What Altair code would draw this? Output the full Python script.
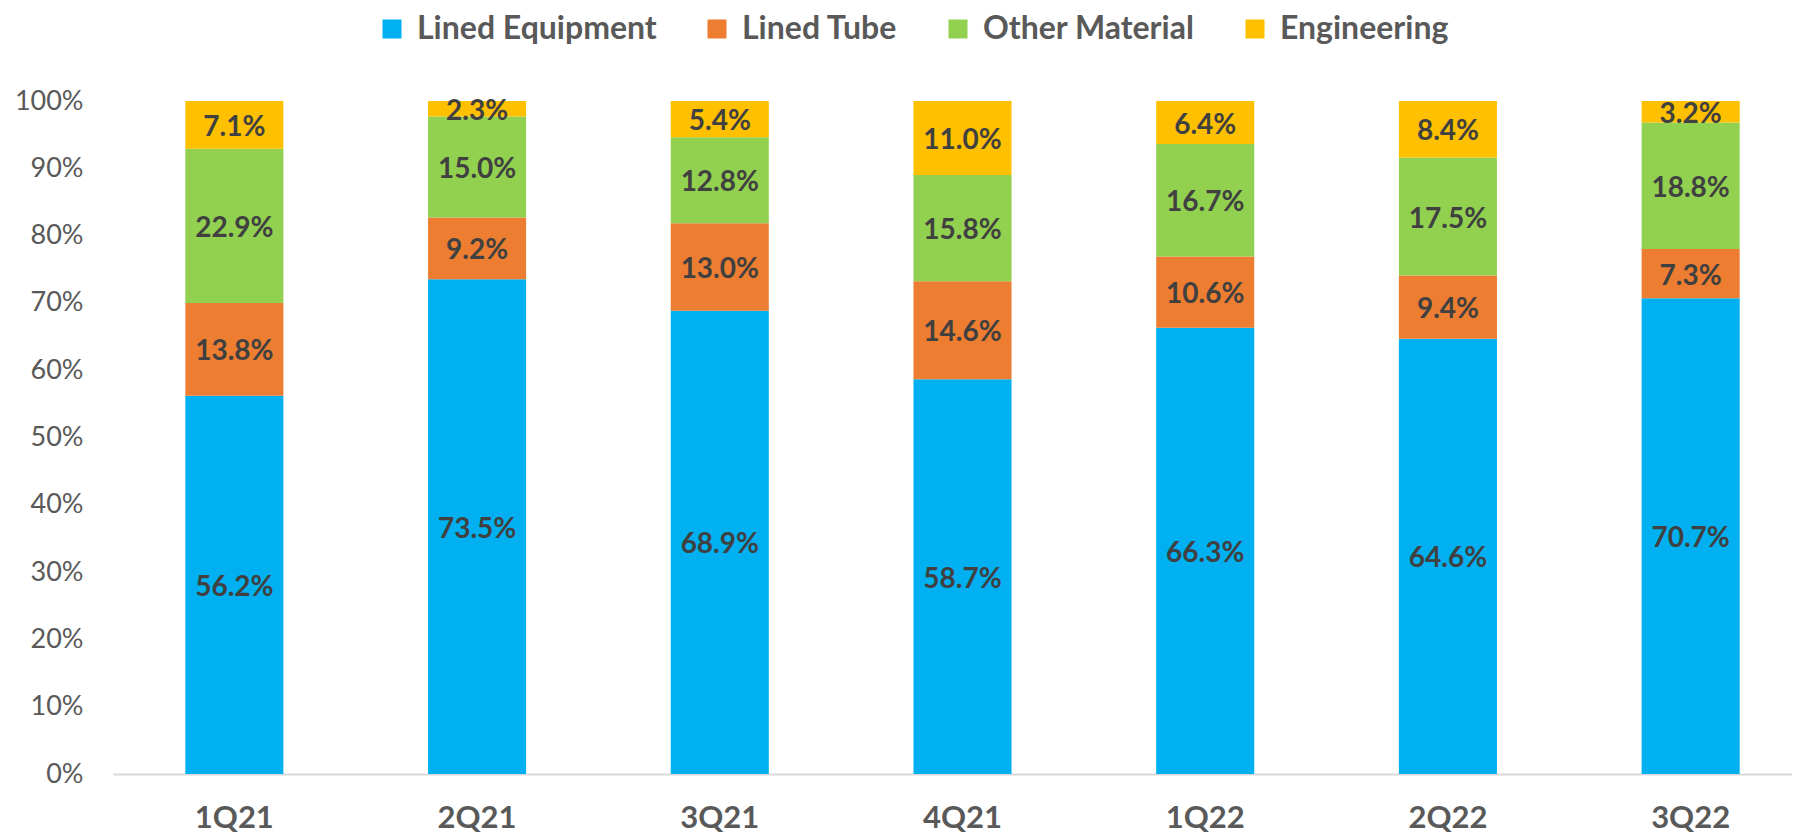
import altair as alt
import pandas as pd

quarters = ["1Q21", "2Q21", "3Q21", "4Q21", "1Q22", "2Q22", "3Q22"]
series = ["Lined Equipment", "Lined Tube", "Other Material", "Engineering"]
colors = ["#00B0F0", "#ED7D31", "#92D050", "#FFC000"]

lined_equipment = [56.2, 73.5, 68.9, 58.7, 66.3, 64.6, 70.7]
lined_tube = [13.8, 9.2, 13.0, 14.6, 10.6, 9.4, 7.3]
other_material = [22.9, 15.0, 12.8, 15.8, 16.7, 17.5, 18.8]
engineering = [7.1, 2.3, 5.4, 11.0, 6.4, 8.4, 3.2]

values = [lined_equipment, lined_tube, other_material, engineering]
rows = []
for si, (name, vals) in enumerate(zip(series, values)):
    for q, v in zip(quarters, vals):
        rows.append({"quarter": q, "series": name, "value": v, "order": si})
df = pd.DataFrame(rows)

FONT = "Lato"

base = alt.Chart(df).transform_stack(
    stack="value",
    groupby=["quarter"],
    as_=["y0", "y1"],
    offset="normalize",
    sort=[alt.SortField("order", order="ascending")],
).transform_calculate(
    mid="(datum.y0 + datum.y1) / 2",
    label="format(datum.value, '.1f') + '%'",
)

x_enc = alt.X(
    "quarter:N",
    sort=quarters,
    scale=alt.Scale(range=[0, 1699], paddingInner=0.596, paddingOuter=0.298),
    axis=alt.Axis(
        title=None,
        labelAngle=0,
        labelFont=FONT,
        labelFontWeight="bold",
        labelFontSize=31,
        labelColor="#595959",
        labelPadding=29,
        domainColor="#D9D9D9",
        domainWidth=2,
        ticks=False,
        grid=False,
    ),
)

bars = base.mark_bar().encode(
    x=x_enc,
    y=alt.Y(
        "y0:Q",
        scale=alt.Scale(domain=[0, 1]),
        axis=alt.Axis(
            title=None,
            values=[0, 0.1, 0.2, 0.3, 0.4, 0.5, 0.6, 0.7, 0.8, 0.9, 1.0],
            format=".0%",
            labelFont=FONT,
            labelFontSize=27,
            labelColor="#595959",
            labelPadding=30,
            domain=False,
            ticks=False,
            grid=False,
        ),
    ),
    y2="y1:Q",
    color=alt.Color(
        "series:N",
        sort=series,
        scale=alt.Scale(domain=series, range=colors),
        legend=alt.Legend(
            title=None,
            orient="none",
            legendX=263,
            legendY=-88,
            direction="horizontal",
            symbolType="square",
            symbolSize=361,
            symbolStrokeWidth=0,
            symbolOpacity=1,
            labelFont=FONT,
            labelFontWeight="bold",
            labelFontSize=32,
            labelColor="#595959",
            labelOffset=9,
            labelLimit=0,
            columnPadding=44,
        ),
    ),
    order=alt.Order("order:Q"),
)

labels = base.mark_text(
    font=FONT, fontWeight="bold", fontSize=28, color="#404040", baseline="middle", dy=3
).encode(
    x=alt.X("quarter:N", sort=quarters),
    y=alt.Y("mid:Q"),
    text="label:N",
)

chart = (
    alt.layer(bars, labels)
    .properties(
        width=1679,
        height=673,
        autosize=alt.AutoSizeParams(type="none"),
        padding={"left": 105, "top": 93, "right": 0, "bottom": 60},
        background="white",
    )
    .configure_view(stroke=None)
)

chart.save("out.html", embed_options={"renderer": "svg", "actions": False})
